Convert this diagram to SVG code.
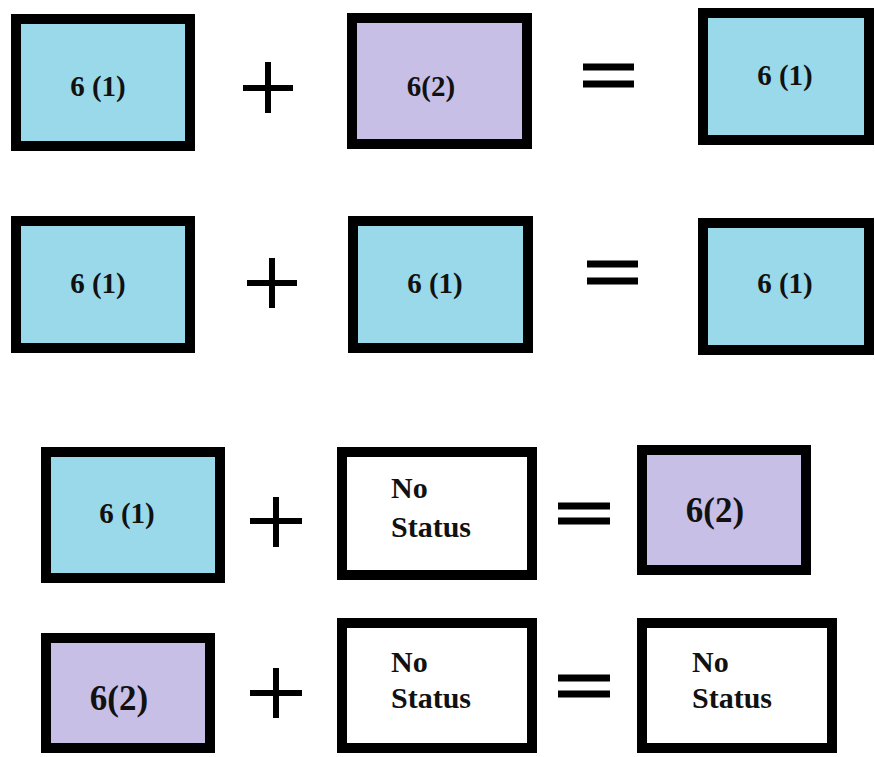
<svg xmlns="http://www.w3.org/2000/svg" width="875" height="757" viewBox="0 0 875 757">
<style>
.box{stroke:#000;stroke-width:10}
.blue{fill:#99D9EA}
.lav{fill:#C8BFE7}
.white{fill:#fff}
.t{font-family:"Liberation Serif","Times New Roman",serif;font-weight:bold;fill:#111}
.s{font-size:29px}
.b{font-size:35px}
.ns{font-size:30px}
.op{stroke:#000;stroke-width:6;fill:none}
.eq{stroke:#000;stroke-width:7;fill:none}
</style>
<rect width="875" height="757" fill="#fff"/>
<g id="r1a"><rect class="box blue" x="16" y="19" width="174" height="127"/><text class="t s" x="98" y="96" text-anchor="middle">6 (1)</text></g>
<g id="r1b"><rect class="box lav" x="352" y="18" width="175" height="126"/><text class="t s" x="431" y="96" text-anchor="middle">6(2)</text></g>
<g id="r1c"><rect class="box blue" x="703" y="13" width="166" height="127"/><text class="t s" x="785" y="85" text-anchor="middle">6 (1)</text></g>
<g id="r2a"><rect class="box blue" x="16" y="221" width="174" height="127"/><text class="t s" x="98" y="293" text-anchor="middle">6 (1)</text></g>
<g id="r2b"><rect class="box blue" x="353" y="221" width="175" height="127"/><text class="t s" x="435" y="293" text-anchor="middle">6 (1)</text></g>
<g id="r2c"><rect class="box blue" x="703" y="223" width="166" height="127"/><text class="t s" x="785" y="293" text-anchor="middle">6 (1)</text></g>
<g id="r3a"><rect class="box blue" x="46" y="452" width="174" height="126"/><text class="t s" x="127" y="523" text-anchor="middle">6 (1)</text></g>
<g id="r3b"><rect class="box white" x="342" y="452" width="190" height="123"/><text class="t ns" x="391" y="498">No</text><text class="t ns" x="391" y="537">Status</text></g>
<g id="r3c"><rect class="box lav" x="642" y="450" width="164" height="120"/><text class="t b" x="715" y="522" text-anchor="middle">6(2)</text></g>
<g id="r4a"><rect class="box lav" x="46" y="638" width="164" height="110"/><text class="t b" x="119" y="710" text-anchor="middle">6(2)</text></g>
<g id="r4b"><rect class="box white" x="342" y="623" width="190" height="125"/><text class="t ns" x="391" y="672">No</text><text class="t ns" x="391" y="708">Status</text></g>
<g id="r4c"><rect class="box white" x="642" y="623" width="190" height="125"/><text class="t ns" x="692" y="672">No</text><text class="t ns" x="692" y="708">Status</text></g>
<g id="operators">
<path class="op" d="M243 88H293M268 62V113"/>
<path class="op" d="M247 283H297M272 258V308"/>
<path class="op" d="M250 521H302M276 497V547"/>
<path class="op" d="M250 693H302M276 668V718"/>
<path class="eq" d="M583 67H634M583 84H634"/>
<path class="eq" d="M587 264H638M587 281H638"/>
<path class="eq" d="M558 506H610M558 521H610"/>
<path class="eq" d="M558 678H610M558 694H610"/>
</g>
</svg>
